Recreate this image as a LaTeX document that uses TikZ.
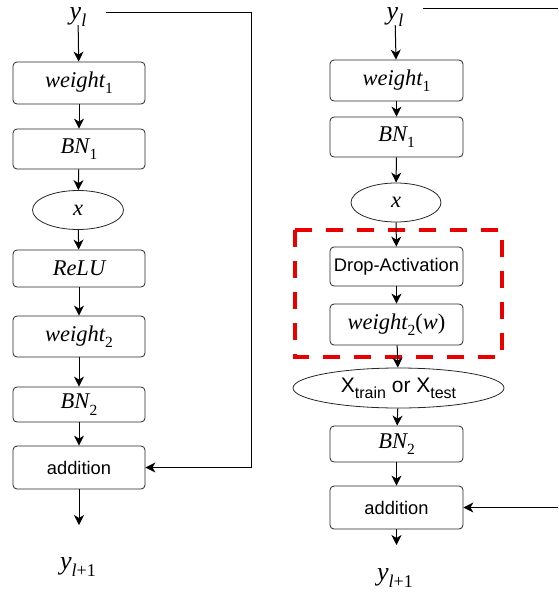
\documentclass[tikz,border=0pt]{standalone}
\usepackage{fontspec}
\setmainfont{Liberation Serif}
\newfontfamily\sansf{Liberation Sans}
\usetikzlibrary{arrows.meta,shapes.geometric}
\definecolor{dashred}{rgb}{0.92,0,0}
\newcommand\lowsub[2]{\raisebox{-0.28em}{\fontsize{#1}{#1}\selectfont #2}}
\tikzset{
  blk/.style={draw=black!85, line width=0.8pt, rounded corners=4pt, minimum width=132pt, inner sep=0pt, font=\fontsize{22.5}{26}\selectfont\itshape},
  ell/.style={draw=black!85, line width=0.8pt, ellipse, inner sep=0pt, font=\fontsize{22.5}{26}\selectfont\itshape},
  sblk/.style={blk, font=\fontsize{18.3}{22}\selectfont\sansf},
  lbl/.style={inner sep=0pt, anchor=base, text height=13pt, text depth=6pt, font=\fontsize{26}{30}\selectfont\itshape},
  arr/.style={line width=1pt, -{Stealth[length=10pt,width=10pt,inset=3pt]}},
  ln/.style={line width=1pt},
  redbox/.style={draw=dashred, line width=4pt, dash pattern=on 17pt off 14pt}
}
\begin{document}
\begin{tikzpicture}[x=1pt,y=-1pt]
\useasboundingbox (0,0) rectangle (558,592);
% ---------- left column ----------
\node[lbl] (ylL) at (78,19) {y\lowsub{18}{l}};
\node[blk, minimum height=42pt] (w1L) at (79,83) {weight\lowsub{15.5}{\upshape 1}};
\node[blk, minimum height=40pt] (bn1L) at (79,149) {BN\lowsub{15.5}{\upshape 1}};
\node[ell, minimum width=91pt, minimum height=39pt] (xL) at (78,210) {x};
\node[blk, minimum height=37pt] (reluL) at (79,268.5) {ReLU};
\node[blk, minimum height=41pt] (w2L) at (79,336.5) {weight\lowsub{15.5}{\upshape 2}};
\node[blk, minimum height=35pt] (bn2L) at (79,404.5) {BN\lowsub{15.5}{\upshape 2}};
\node[sblk, minimum height=43pt] (addL) at (79,467.5) {addition};
\node[lbl] (youtL) at (78,569.5) {y\lowsub{18}{l\upshape +1}};
\coordinate (outL) at (79,525);
\coordinate (skipL) at (106,12);
\coordinate (cornerL) at (251,12);
\draw[arr] (ylL) -- (w1L);
\draw[arr] (w1L) -- (bn1L);
\draw[arr] (bn1L) -- (xL);
\draw[arr] (xL) -- (reluL);
\draw[arr] (reluL) -- (w2L);
\draw[arr] (w2L) -- (bn2L);
\draw[arr] (bn2L) -- (addL);
\draw[arr] (addL) -- (outL);
\draw[arr] (skipL) -- (cornerL) |- (addL.east);
% ---------- right column ----------
\node[lbl] (ylR) at (395,19) {y\lowsub{18}{l}};
\node[blk, minimum width=133pt, minimum height=41pt] (w1R) at (396.5,80.5) {weight\lowsub{15.5}{\upshape 1}};
\node[blk, minimum width=133pt, minimum height=40pt] (bn1R) at (396.5,137) {BN\lowsub{15.5}{\upshape 1}};
\node[ell, minimum width=90pt, minimum height=39pt] (xR) at (396,202.5) {x};
\node[sblk, minimum width=133pt, minimum height=39pt] (dropR) at (396.5,266.5) {Drop-Activation};
\node[blk, minimum width=133pt, minimum height=41pt] (w2R) at (396.5,324.5) {weight\lowsub{15.5}{\upshape 2}\upshape(\itshape w\upshape)};
\node[ell, minimum width=211pt, minimum height=40pt, font=\fontsize{21}{24}\selectfont\sansf] (xtR) at (398.5,388) {X\lowsub{16}{train} or X\lowsub{16}{test}};
\node[blk, minimum width=133pt, minimum height=36pt] (bn2R) at (396.5,444) {BN\lowsub{15.5}{\upshape 2}};
\node[sblk, minimum width=133pt, minimum height=43pt] (addR) at (396.5,507.5) {addition};
\node[lbl] (youtR) at (395,580) {y\lowsub{18}{l\upshape +1}};
\coordinate (outR) at (396.5,545);
\coordinate (skipR1) at (423,8);
\coordinate (skipR2) at (558,8);
\coordinate (inR) at (558,507.5);
\draw[redbox] (295,230) rectangle (502,357);
\draw[arr] (ylR) -- (w1R);
\draw[arr] (w1R) -- (bn1R);
\draw[arr] (bn1R) -- (xR);
\draw[arr] (xR) -- (dropR);
\draw[arr] (dropR) -- (w2R);
\draw[arr] (w2R) -- (xtR);
\draw[arr] (xtR) -- (bn2R);
\draw[arr] (bn2R) -- (addR);
\draw[arr] (addR) -- (outR);
\draw[ln] (skipR1) -- (skipR2);
\draw[arr] (inR) -- (addR.east);
\end{tikzpicture}
\end{document}
